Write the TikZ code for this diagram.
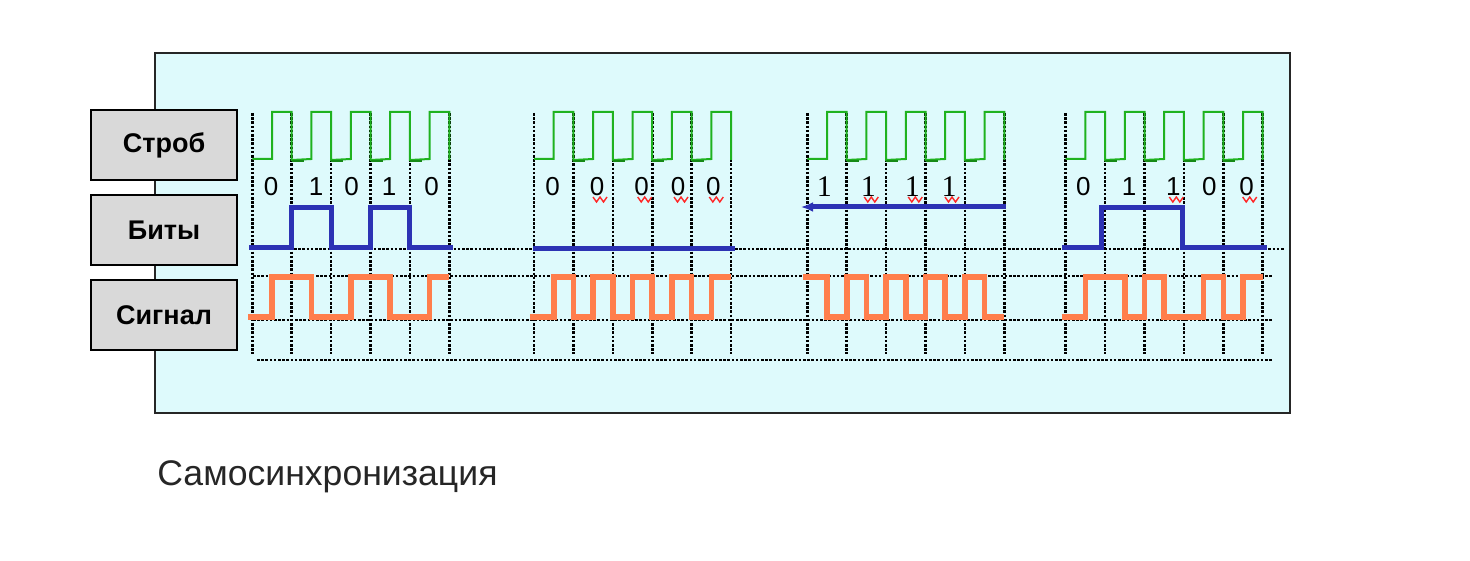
\documentclass[tikz,border=0pt]{standalone}
\usepackage{fontspec}
\setmainfont{Liberation Sans}
\newfontfamily\serifdig{Liberation Serif}
\usetikzlibrary{arrows.meta}
\definecolor{panelcyan}{HTML}{DEFAFC}
\definecolor{boxgray}{HTML}{D9D9D9}
\definecolor{strobegreen}{HTML}{1FB21F}
\definecolor{stubgreen}{HTML}{168A16}
\definecolor{bitblue}{HTML}{2C32B4}
\definecolor{signalorange}{HTML}{FF7E4C}
\definecolor{captiongray}{HTML}{262626}

\begin{document}
\begin{tikzpicture}[x=0.5pt, y=-0.5pt,
    panel/.style={draw=black!85, fill=panelcyan, line width=1pt},
    namebox/.style={draw=black, fill=boxgray, line width=1.1pt,
      minimum width=73pt, minimum height=35pt, inner sep=0pt,
      font=\fontsize{13.5}{15}\selectfont\bfseries},
    grid/.style={black, line width=1.3pt, dash pattern=on 1.3pt off 0.8pt},
    strobe/.style={strobegreen, line width=1pt},
    stub/.style={stubgreen, line width=1.4pt},
    bitline/.style={bitblue, line width=2.5pt},
    signal/.style={signalorange, line width=2.8pt},
    digit/.style={font=\fontsize{13}{13}\selectfont, inner sep=0pt},
    squiggle/.style={red!85, line width=0.7pt},
    caption/.style={font=\fontsize{17.8}{20}\selectfont, text=captiongray, inner sep=0pt}]
  \useasboundingbox (0,0) rectangle (1470,561);

  % Panel
  \draw[panel] (155,53) rectangle (1290,413);

  % Row names
  \node[namebox] (strob) at (164,145) {Строб};
  \node[namebox] (bity) at (164,230) {Биты};
  \node[namebox] (signal) at (164,315) {Сигнал};

  % Horizontal grid
  \draw[grid] (252,249) -- (1284,249);
  \draw[grid] (253,276) -- (1272,276);
  \draw[grid] (253,320) -- (1272,320);
  \draw[grid] (257,360) -- (1272,360);

  % Four groups: strobe, grid and Manchester signal
  \foreach \gx/\bits/\sy in {252.3/{0,1,0,1,0}/317, 534/{0,0,0,0,0}/317,
                             807.3/{1,1,1,1,1}/277, 1065.7/{0,1,1,0,0}/317} {
    \foreach \i in {0,...,5}
      \draw[grid] ({\gx+\i*39.4},113) -- ({\gx+\i*39.4},354);
    \draw[strobe] (\gx,159) \foreach \i in {0,...,4} {
        -- ({\gx+(\i+0.5)*39.4},159) -- ({\gx+(\i+0.5)*39.4},112)
        -- ({\gx+(\i+1)*39.4},112) -- ({\gx+(\i+1)*39.4},160) };
    \foreach \i in {1,...,4}
      \draw[stub] ({\gx+\i*39.4},161) -- ++(12,0);
    \draw[signal] ({\gx-4},\sy) \foreach \b [count=\i from 0] in \bits {
        -- ({\gx+\i*39.4},{317-40*\b}) -- ({\gx+(\i+0.5)*39.4},{317-40*\b})
        -- ({\gx+(\i+0.5)*39.4},{277+40*\b}) -- ({\gx+(\i+1)*39.4},{277+40*\b}) };
  }

  % Bits
  \draw[bitline] (249,247) -- (291.7,247) -- (291.7,208) -- (331.1,208)
    -- (331.1,247) -- (370.5,247) -- (370.5,208) -- (409.9,208)
    -- (409.9,247) -- (453,247);
  \draw[bitline] (533,248) -- (735,248);
  \draw[bitline, {Latex[length=6pt,width=5pt]}-] (801,207) -- (1006,207);
  \draw[bitline] (1062,247) -- (1101.7,247) -- (1101.7,208) -- (1182.7,208)
    -- (1182.7,247) -- (1267,247);

  % Bit values
  \foreach \x/\v [count=\n] in {271/0, 316/1, 351.7/0, 389/1, 431.7/0,
                                552.7/0, 1083.3/0, 1129/1, 1209.3/0}
    \node[digit] (bit\n) at (\x,187) {\v};
  \foreach \x/\v/\f [count=\n] in {597/0/, 641.7/0/, 678/0/, 713.3/0/,
                                   868.3/1/\serifdig\fontsize{15}{15}\selectfont,
                                   912.3/1/\serifdig\fontsize{15}{15}\selectfont,
                                   949/1/\serifdig\fontsize{15}{15}\selectfont,
                                   1173.3/1/, 1246.7/0/} {
    \node[digit] (odd\n) at (\x,187) {\f\v};
    \draw[squiggle] (\x-4,197) -- ++(3.5,5) -- ++(3.5,-5) -- ++(3.5,5) -- ++(3.5,-5);
  }
  \node[digit, font=\serifdig\fontsize{15}{15}\selectfont] (one) at (824.3,187) {1};

  % Caption
  \node[caption, anchor=base west] (title) at (157,485) {Самосинхронизация};
\end{tikzpicture}
\end{document}
